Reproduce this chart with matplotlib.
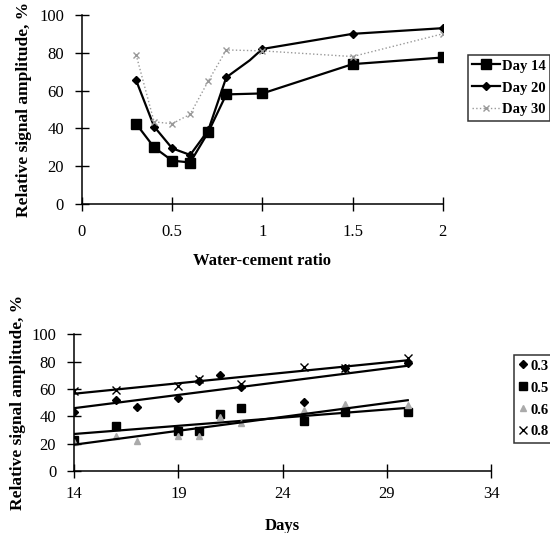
import numpy as np
import matplotlib
matplotlib.use("Agg")
import matplotlib.pyplot as plt

plt.rcParams["font.family"] = ["Liberation Serif", "DejaVu Serif"]

# Top chart: amplitude vs water-cement ratio
wc_ratio = [0.3, 0.4, 0.5, 0.6, 0.7, 0.8, 1.0, 1.5, 2.0]
day14 = [42.5, 30, 23, 22, 38, 58, 58.5, 74, 77.5]
wc_ratio_20 = [0.3, 0.4, 0.5, 0.6, 0.7, 0.8, 0.93, 1.0, 1.5, 2.0]
day20 = [65.5, 41, 29.5, 26, 39, 67, 76, 82, 90, 93]
day30 = [79, 43.5, 42.5, 47.5, 65, 81.5, 81, 78, 90]

# Bottom chart: amplitude vs days for each w/c ratio
days_03 = [14, 16, 17, 19, 20, 21, 22, 25, 27, 30]
amp_03 = [43, 52, 47, 53.5, 66, 70, 61.5, 50.5, 75, 79]
days_05 = [14, 16, 19, 20, 21, 22, 25, 27, 30]
amp_05 = [23, 33, 29, 29, 42, 46, 36.5, 43.5, 43.5]
days_06 = [14, 16, 17, 19, 20, 21, 22, 25, 27, 30]
amp_06 = [21, 26, 22, 26, 26, 39.5, 35, 45, 49, 48]
days_08 = [14, 16, 19, 20, 22, 25, 27, 30]
amp_08 = [58.5, 59.5, 62.5, 67.5, 64, 76, 75, 82.5]

fig = plt.figure(figsize=(5.5, 5.33), dpi=100)


def style_axes(ax):
    for s in ["top", "right"]:
        ax.spines[s].set_visible(False)
    ax.spines["left"].set_linewidth(1.1)
    ax.spines["bottom"].set_linewidth(1.1)
    ax.tick_params(direction="inout", length=10, width=1.0, labelsize=12)


# ---- top ----
ax1 = fig.add_axes([0.149, 0.617, 0.656, 0.355])
ax1.plot(wc_ratio, day14, color="black", lw=1.6, marker="s", ms=6.5, label="Day 14")
ax1.plot(wc_ratio_20, day20, color="black", lw=1.6, marker="D", ms=4.5,
         markevery=[0, 1, 2, 3, 4, 5, 7, 8, 9], label="Day 20")
ax1.plot(wc_ratio, day30, color="#999999", lw=1.0, ls=":", marker="x", ms=5,
         label="Day 30")
ax1.set_xlim(0, 2)
ax1.set_ylim(0, 100)
ax1.set_xticks([0, 0.5, 1, 1.5, 2])
ax1.set_xticklabels(["0", "0.5", "1", "1.5", "2"])
ax1.set_yticks([0, 20, 40, 60, 80, 100])
style_axes(ax1)
ax1.tick_params(axis="x", pad=9)
ax1.tick_params(axis="y", pad=8)
ax1.set_xlabel("Water-cement ratio", fontsize=12, fontweight="bold", labelpad=10)
ax1.set_ylabel("Relative signal amplitude, %", fontsize=12.5, fontweight="bold",
               labelpad=5)
leg1 = ax1.legend(loc="upper left", bbox_to_anchor=(468 / 550, 1 - 55 / 533),
                  bbox_transform=fig.transFigure, frameon=True, fancybox=False,
                  edgecolor="black", prop={"size": 10.5, "weight": "bold"},
                  handlelength=1.9, borderaxespad=0, borderpad=0.3,
                  labelspacing=0.6, handletextpad=0.15)
leg1.get_frame().set_linewidth(1.1)

# ---- bottom ----
ax2 = fig.add_axes([0.135, 0.116, 0.758, 0.257])
series = [
    (days_03, amp_03, "D", "black", 4.5, "0.3"),
    (days_05, amp_05, "s", "black", 5.5, "0.5"),
    (days_06, amp_06, "^", "#aaaaaa", 4.5, "0.6"),
    (days_08, amp_08, "x", "black", 5.5, "0.8"),
]
for d, a, m, c, s, lab in series:
    ax2.plot(d, a, ls="none", marker=m, color=c, ms=s, label=lab)
    k, b = np.polyfit(d, a, 1)
    xs = np.array([14, 30])
    ax2.plot(xs, k * xs + b, color="black", lw=1.6)
ax2.set_xlim(14, 34)
ax2.set_ylim(0, 100)
ax2.set_xticks([14, 19, 24, 29, 34])
ax2.set_yticks([0, 20, 40, 60, 80, 100])
style_axes(ax2)
ax2.tick_params(axis="x", pad=6)
ax2.tick_params(axis="y", pad=8)
ax2.set_xlabel("Days", fontsize=12, fontweight="bold", labelpad=11)
ax2.set_ylabel("Relative signal amplitude, %", fontsize=12.5, fontweight="bold",
               labelpad=4)
leg2 = ax2.legend(loc="upper left", bbox_to_anchor=(514 / 550, 1 - 355 / 533),
                  bbox_transform=fig.transFigure, frameon=True, fancybox=False,
                  edgecolor="black", prop={"size": 10.5, "weight": "bold"},
                  handlelength=0.6, borderaxespad=0, borderpad=0.3,
                  labelspacing=0.6, handletextpad=0.2)
leg2.get_frame().set_linewidth(1.1)

fig.savefig("out.png", dpi=100)
